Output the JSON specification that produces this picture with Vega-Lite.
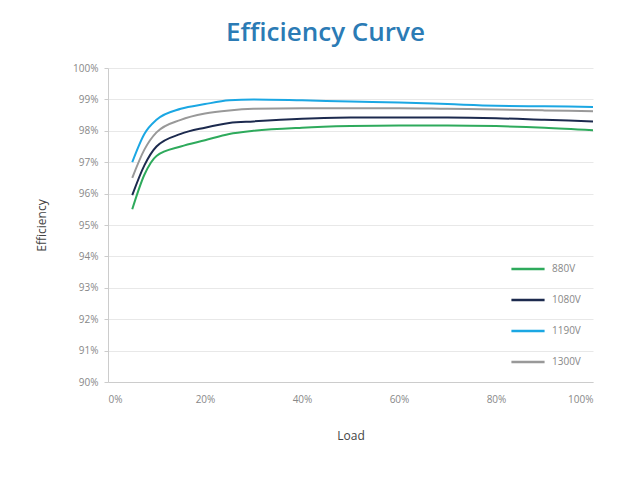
{
  "$schema": "https://vega.github.io/schema/vega-lite/v6.json",
  "autosize": "none",
  "width": 485,
  "height": 314,
  "padding": {"left": 108, "top": 68, "right": 40, "bottom": 98},
  "background": "white",
  "title": {
    "text": "Efficiency Curve",
    "font": "Open Sans",
    "fontSize": 26,
    "fontWeight": 600,
    "color": "#2b7bb5",
    "anchor": "middle",
    "dx": -25,
    "offset": 17
  },
  "config": {
    "view": {"stroke": null},
    "font": "Open Sans",
    "axis": {
      "labelColor": "#888",
      "labelFontSize": 10,
      "titleColor": "#444",
      "titleFontSize": 12,
      "titleFontWeight": "normal",
      "domainColor": "#ccc",
      "tickColor": "#ccc",
      "gridColor": "#e8e8e8"
    }
  },
  "data": {
    "values": [
      {"load": 5, "eff": 95.5, "v": "880V"},
      {"load": 7.5, "eff": 96.6, "v": "880V"},
      {"load": 10, "eff": 97.2, "v": "880V"},
      {"load": 15, "eff": 97.5, "v": "880V"},
      {"load": 20, "eff": 97.7, "v": "880V"},
      {"load": 25, "eff": 97.9, "v": "880V"},
      {"load": 30, "eff": 98.0, "v": "880V"},
      {"load": 40, "eff": 98.1, "v": "880V"},
      {"load": 50, "eff": 98.15, "v": "880V"},
      {"load": 60, "eff": 98.17, "v": "880V"},
      {"load": 70, "eff": 98.17, "v": "880V"},
      {"load": 80, "eff": 98.15, "v": "880V"},
      {"load": 90, "eff": 98.1, "v": "880V"},
      {"load": 100, "eff": 98.02, "v": "880V"},
      {"load": 5, "eff": 95.95, "v": "1080V"},
      {"load": 7.5, "eff": 96.9, "v": "1080V"},
      {"load": 10, "eff": 97.5, "v": "1080V"},
      {"load": 15, "eff": 97.9, "v": "1080V"},
      {"load": 20, "eff": 98.1, "v": "1080V"},
      {"load": 25, "eff": 98.25, "v": "1080V"},
      {"load": 30, "eff": 98.3, "v": "1080V"},
      {"load": 40, "eff": 98.38, "v": "1080V"},
      {"load": 50, "eff": 98.42, "v": "1080V"},
      {"load": 60, "eff": 98.42, "v": "1080V"},
      {"load": 70, "eff": 98.42, "v": "1080V"},
      {"load": 80, "eff": 98.4, "v": "1080V"},
      {"load": 90, "eff": 98.35, "v": "1080V"},
      {"load": 100, "eff": 98.3, "v": "1080V"},
      {"load": 5, "eff": 97.0, "v": "1190V"},
      {"load": 7.5, "eff": 97.9, "v": "1190V"},
      {"load": 10, "eff": 98.35, "v": "1190V"},
      {"load": 15, "eff": 98.7, "v": "1190V"},
      {"load": 20, "eff": 98.85, "v": "1190V"},
      {"load": 25, "eff": 98.97, "v": "1190V"},
      {"load": 30, "eff": 99.0, "v": "1190V"},
      {"load": 40, "eff": 98.97, "v": "1190V"},
      {"load": 50, "eff": 98.93, "v": "1190V"},
      {"load": 60, "eff": 98.9, "v": "1190V"},
      {"load": 70, "eff": 98.85, "v": "1190V"},
      {"load": 80, "eff": 98.8, "v": "1190V"},
      {"load": 90, "eff": 98.78, "v": "1190V"},
      {"load": 100, "eff": 98.76, "v": "1190V"},
      {"load": 5, "eff": 96.5, "v": "1300V"},
      {"load": 7.5, "eff": 97.4, "v": "1300V"},
      {"load": 10, "eff": 97.95, "v": "1300V"},
      {"load": 15, "eff": 98.35, "v": "1300V"},
      {"load": 20, "eff": 98.55, "v": "1300V"},
      {"load": 25, "eff": 98.65, "v": "1300V"},
      {"load": 30, "eff": 98.7, "v": "1300V"},
      {"load": 40, "eff": 98.72, "v": "1300V"},
      {"load": 50, "eff": 98.72, "v": "1300V"},
      {"load": 60, "eff": 98.72, "v": "1300V"},
      {"load": 70, "eff": 98.7, "v": "1300V"},
      {"load": 80, "eff": 98.68, "v": "1300V"},
      {"load": 90, "eff": 98.65, "v": "1300V"},
      {"load": 100, "eff": 98.62, "v": "1300V"}
    ]
  },
  "mark": {"type": "line", "interpolate": "monotone", "strokeWidth": 2},
  "encoding": {
    "x": {
      "field": "load", "type": "quantitative", "title": "Load",
      "scale": {"domain": [0, 100], "nice": false},
      "axis": {"values": [0, 20, 40, 60, 80, 100], "labelExpr": "datum.value + '%'", "grid": false, "ticks": false, "labelPadding": 12, "titlePadding": 26}
    },
    "y": {
      "field": "eff", "type": "quantitative", "title": "Efficiency",
      "scale": {"domain": [90, 100], "nice": false},
      "axis": {"values": [90, 91, 92, 93, 94, 95, 96, 97, 98, 99, 100], "labelExpr": "datum.value + '%'", "ticks": true, "tickSize": 4, "labelPadding": 6, "titlePadding": 24}
    },
    "color": {
      "field": "v", "type": "nominal", "title": null,
      "scale": {"domain": ["880V", "1080V", "1190V", "1300V"], "range": ["#2eaa5c", "#1c2a4e", "#1ba7e3", "#999999"]},
      "legend": {
        "orient": "none", "legendX": 402, "legendY": 183,
        "symbolType": "stroke", "symbolSize": 1100, "symbolStrokeWidth": 2.5,
        "labelFontSize": 10, "labelColor": "#888", "rowPadding": 8, "labelOffset": 6
      }
    }
  }
}
